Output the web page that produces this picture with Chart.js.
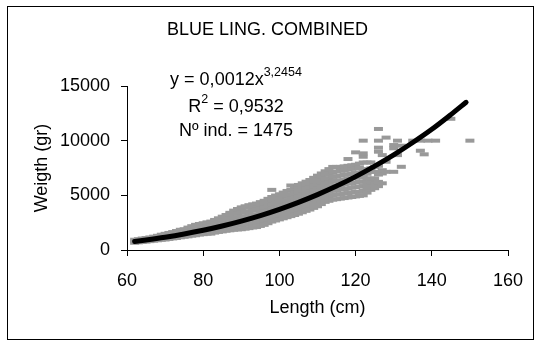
<!DOCTYPE html>
<html>
<head>
<meta charset="utf-8">
<script src="https://cdn.jsdelivr.net/npm/chart.js@4"></script>
<style>
  html, body { margin: 0; padding: 0; background: #fff; }
  canvas { display: block; }
</style>
</head>
<body>
<canvas id="chart" width="541" height="345"></canvas>
<script>
const TITLE = "BLUE LING. COMBINED";
const X_TITLE = "Length (cm)";
const Y_TITLE = "Weigth (gr)";
const X_TICKS = [60, 80, 100, 120, 140, 160];
const Y_TICKS = [0, 5000, 10000, 15000];

// fitted curve
const curveLen = [62, 65, 70, 75, 80, 85, 90, 95, 100, 105, 110, 115, 120, 125, 130, 135, 140, 145, 149];
const curveWt = [785, 918, 1168, 1461, 1800, 2191, 2640, 3144, 3715, 4356, 5064, 5844, 6710, 7668, 8700, 9828, 11040, 12384, 13510];

// observed fish, grouped by length (cm)
const sampleLen = [62, 63, 64, 65, 66, 67, 68, 69, 70, 71, 72, 73, 74, 75, 76, 77, 78, 79, 80,
    81, 82, 83, 84, 85, 86, 87, 88, 89, 90, 91, 92, 93, 94, 95, 96, 97, 98, 99, 100,
    101, 102, 103, 104, 105, 106, 107, 108, 109, 110, 111, 112, 113, 114, 115, 116, 117, 118, 119, 120,
    121, 122, 123, 124, 125, 126, 127, 128, 130, 131, 132, 135, 137, 138, 139, 141, 145, 150];
const sampleWt = [
    [660, 800, 940], [700, 850, 990], [730, 890, 1050], [770, 940, 1100], [810, 980, 1150],
    [850, 1030, 1220], [890, 1090, 1300], [930, 1160, 1400], [960, 1200, 1480], [1010, 1270, 1560],
    [1060, 1330, 1640], [1100, 1400, 1740], [1160, 1470, 1850], [1210, 1540, 1900],
    [1250, 1580, 1880, 2050], [1310, 1640, 1950, 2180], [1350, 1690, 2020, 2300],
    [1410, 1740, 2080, 2380], [1450, 1790, 2130, 2450],
    [1490, 1820, 2180, 2530], [1500, 1840, 2200, 2600], [1590, 1930, 2290, 2650, 2750],
    [1650, 2000, 2350, 2700, 2900], [1700, 2050, 2400, 2750, 3050], [1760, 2100, 2460, 2820, 3200],
    [1800, 2150, 2510, 2880, 3250, 3400], [1850, 2200, 2560, 2930, 3300, 3600],
    [1880, 2240, 2610, 2990, 3380, 3750], [1900, 2270, 2650, 3030, 3420, 3800, 3900],
    [1950, 2320, 2700, 3090, 3480, 3870, 4000], [2000, 2380, 2760, 3150, 3540, 3930, 4100],
    [2060, 2430, 2820, 3210, 3600, 3990, 4180], [2100, 2480, 2870, 3260, 3660, 4050, 4250],
    [2200, 2580, 2970, 3360, 3760, 4150, 4380], [2300, 2680, 3070, 3460, 3860, 4250, 4500],
    [2450, 2830, 3220, 3610, 4000, 4400, 4680], [2600, 2980, 3370, 3760, 4150, 4550, 4850, 5500],
    [2700, 3080, 3470, 3860, 4250, 4650, 4980], [2800, 3180, 3570, 3960, 4350, 4750, 5100],
    [2900, 3280, 3670, 4060, 4460, 4860, 5250], [3000, 3380, 3770, 4160, 4560, 4960, 5400],
    [3100, 3480, 3880, 4280, 4680, 5080, 5500, 5900], [3200, 3590, 3990, 4390, 4800, 5210, 5620, 5800],
    [3320, 3710, 4110, 4510, 4920, 5330, 5740, 5950], [3450, 3840, 4240, 4640, 5050, 5460, 5870, 6100],
    [3580, 3970, 4370, 4780, 5190, 5600, 6010, 6250], [3700, 4090, 4500, 4910, 5320, 5740, 6160, 6400],
    [3850, 4240, 4650, 5060, 5480, 5900, 6320, 6600], [4000, 4400, 4810, 5220, 5640, 6060, 6480, 6800],
    [4200, 4600, 5010, 5420, 5840, 6260, 6680, 7000], [4400, 4800, 5210, 5620, 6040, 6460, 6880, 7200],
    [4500, 4900, 5310, 5730, 6150, 6570, 7000, 7400], [4600, 5000, 5410, 5830, 6250, 6680, 7110, 7600],
    [4650, 5060, 5480, 5900, 6330, 6760, 7190, 7600], [4700, 5110, 5530, 5950, 6380, 6810, 7240, 7600],
    [4750, 5160, 5580, 6010, 6440, 6870, 7300, 7650], [4800, 5210, 5640, 6070, 6500, 6930, 7360, 7700, 8320],
    [4850, 5270, 5700, 6130, 6560, 6990, 7420, 7750], [4900, 5320, 5750, 6180, 6610, 7040, 7470, 7800, 8930],
    [4950, 5310, 5800, 6230, 6660, 7090, 7520, 7900], [5000, 5420, 5850, 6280, 6710, 7300, 8010, 8530, 8840, 10000],
    [5250, 5680, 6110, 6540, 6970, 7400, 8000], [5500, 5840, 6230, 6540, 7150, 7470, 8010],
    [5650, 6080, 6540, 7150, 7600], [5840, 6230, 6900, 7700, 8990, 9360, 10000, 11070],
    [6100, 7000, 7300, 8680], [7150, 8070, 10280], [7150, 9300, 9600], [8680, 10000], [7610, 9540],
    [10000], [9080, 10000], [8750], [10000], [10000], [12000], [10000]
];

const FONT = '"Liberation Sans", Arial, sans-serif';

function buildSamples() {
    var pts = [];
    sampleLen.forEach(function (len, i) {
        sampleWt[i].forEach(function (w) {
            pts.push({ x: len, y: w });
        });
    });
    return pts;
}

function buildCurve() {
    return curveLen.map(function (len, i) {
        return { x: len, y: curveWt[i] };
    });
}

// thin frame round the whole chart, like the spreadsheet export
const framePlugin = {
    id: 'frame',
    afterDraw: function (chart) {
        var ctx = chart.ctx;
        ctx.save();
        ctx.strokeStyle = '#000';
        ctx.lineWidth = 1;
        ctx.strokeRect(7.5, 6.5, 526, 333);
        ctx.restore();
    }
};

// equation, R2 and count text block
const equationPlugin = {
    id: 'equation',
    afterDraw: function (chart) {
        var ctx = chart.ctx;
        var cx = 236;
        ctx.save();
        ctx.fillStyle = '#000';
        ctx.textBaseline = 'alphabetic';
        ctx.textAlign = 'left';

        var big = '18px ' + FONT;
        var small = '12.5px ' + FONT;

        ctx.font = big;
        var a = 'y = 0,0012x';
        var wa = ctx.measureText(a).width;
        ctx.font = small;
        var b = '3,2454';
        var wb = ctx.measureText(b).width;
        var x0 = cx - (wa + wb) / 2;
        ctx.font = big;
        ctx.fillText(a, x0, 85);
        ctx.font = small;
        ctx.fillText(b, x0 + wa, 76);

        ctx.font = big;
        var r1 = 'R';
        var r2 = ' = 0,9532';
        var w1 = ctx.measureText(r1).width;
        var w3 = ctx.measureText(r2).width;
        ctx.font = small;
        var w2 = ctx.measureText('2').width;
        x0 = cx - (w1 + w2 + w3) / 2;
        ctx.font = big;
        ctx.fillText(r1, x0, 112);
        ctx.fillText(r2, x0 + w1 + w2, 112);
        ctx.font = small;
        ctx.fillText('2', x0 + w1, 103);

        ctx.font = big;
        ctx.textAlign = 'center';
        ctx.fillText('N\u00ba ind. = 1475', cx, 136);
        ctx.restore();
    }
};

var ctx = document.getElementById('chart');
var chart = new Chart(ctx, {
    type: 'scatter',
    data: {
        datasets: [{
            type: 'line',
            label: 'fit',
            data: buildCurve(),
            borderColor: '#000',
            borderWidth: 5,
            borderCapStyle: 'round',
            pointRadius: 0,
            fill: false,
            cubicInterpolationMode: 'monotone'
        }, {
            label: 'samples',
            data: buildSamples(),
            pointStyle: 'line',
            pointRadius: 4.5,
            borderWidth: 4,
            borderColor: '#999999',
            backgroundColor: '#999999'
        }]
    },
    options: {
        responsive: false,
        animation: false,
        layout: { padding: { left: 27, right: 33, top: 0, bottom: 22 } },
        plugins: {
            legend: { display: false },
            tooltip: { enabled: false },
            title: {
                display: true,
                text: TITLE,
                color: '#000',
                font: { family: FONT, size: 18, weight: 'normal' },
                padding: { top: 19, bottom: 45.4 }
            }
        },
        scales: {
            x: {
                type: 'linear',
                min: 60,
                max: 160,
                afterBuildTicks: function (s) { s.ticks = X_TICKS.map(function (v) { return { value: v }; }); },
                afterFit: function (s) { s.height = 73; },
                border: { color: '#000', width: 1 },
                grid: { drawOnChartArea: false, drawTicks: true, tickLength: 6, color: '#000' },
                ticks: {
                    color: '#000', padding: 14, maxRotation: 0,
                    font: { family: FONT, size: 18 },
                    callback: function (v) { return String(v); }
                },
                title: {
                    display: true,
                    text: X_TITLE,
                    color: '#000',
                    font: { family: FONT, size: 18 },
                    padding: 4
                }
            },
            y: {
                type: 'linear',
                min: 0,
                max: 15000,
                afterBuildTicks: function (s) { s.ticks = Y_TICKS.map(function (v) { return { value: v }; }); },
                afterFit: function (s) { s.width = 100; },
                border: { color: '#000', width: 1 },
                grid: { drawOnChartArea: false, drawTicks: true, tickLength: 6, color: '#000' },
                ticks: {
                    color: '#000', padding: 11,
                    font: { family: FONT, size: 18 },
                    callback: function (v) { return String(v); }
                },
                title: {
                    display: true,
                    text: Y_TITLE,
                    color: '#000',
                    font: { family: FONT, size: 18 },
                    padding: 4
                }
            }
        }
    },
    plugins: [framePlugin, equationPlugin]
});
</script>
</body>
</html>
